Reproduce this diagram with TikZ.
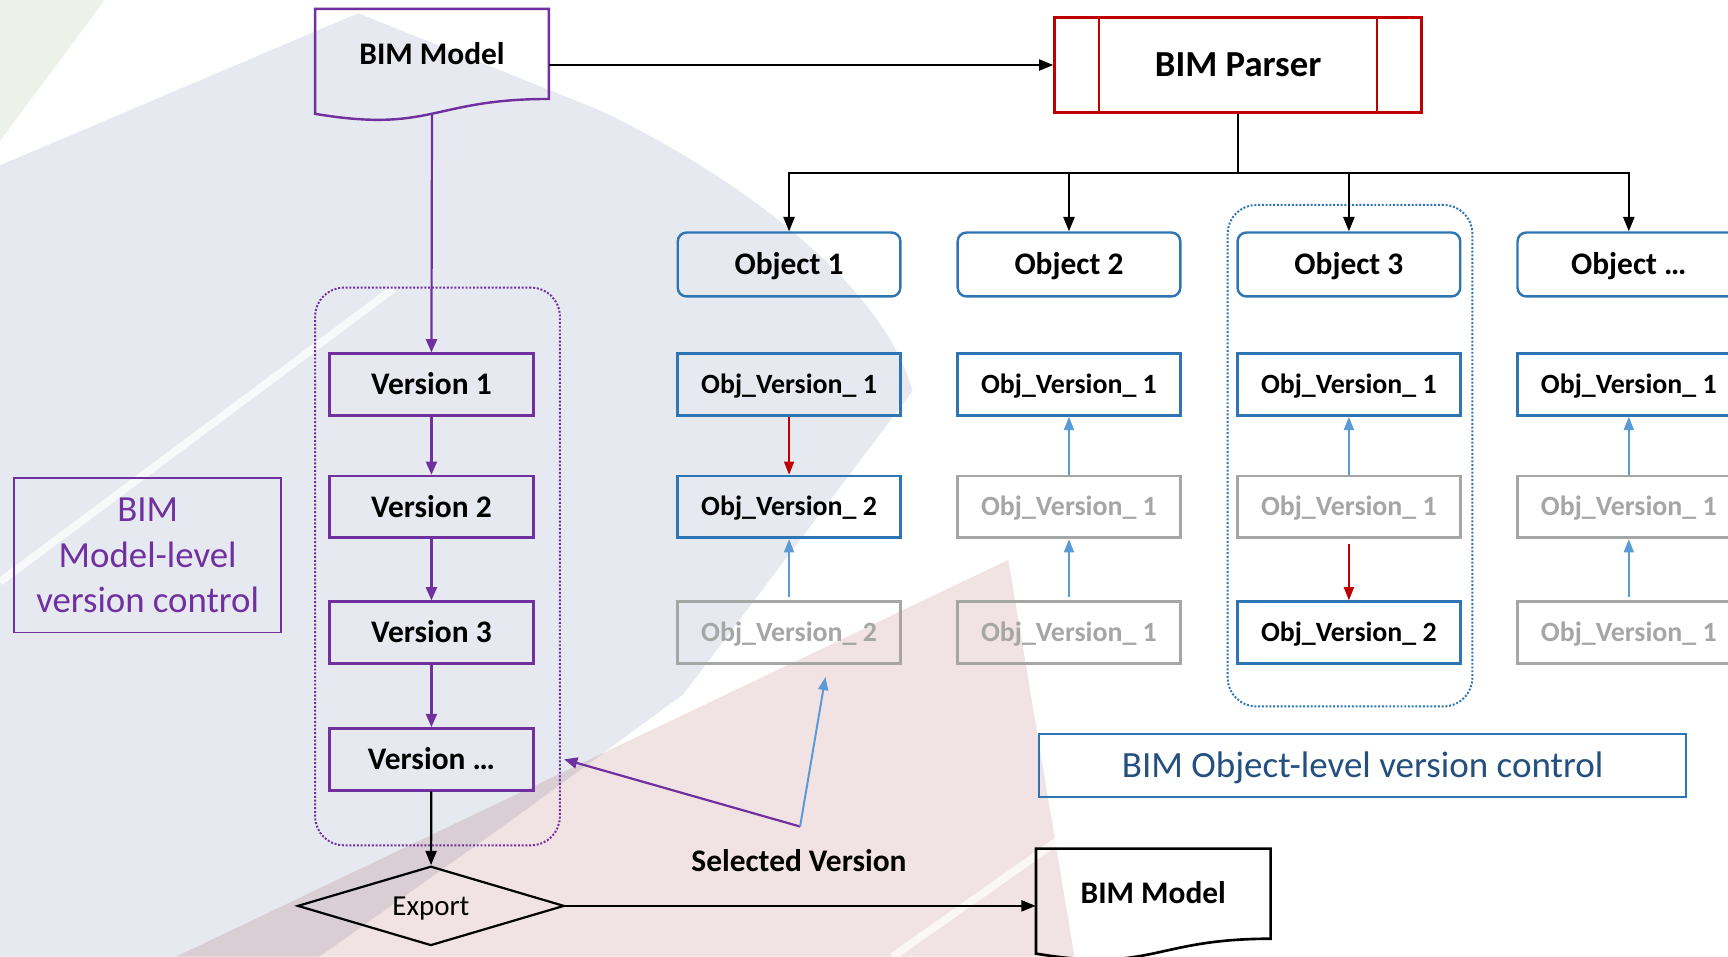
\documentclass[tikz,border=0pt]{standalone}
\usepackage{fontspec}
\setmainfont{Carlito}
\usetikzlibrary{arrows.meta,shapes.geometric,calc}

\definecolor{vpurple}{HTML}{7030A0}
\definecolor{oblue}{HTML}{2E75B6}
\definecolor{lblue}{HTML}{5B9BD5}
\definecolor{ogray}{HTML}{A6A6A6}
\definecolor{pred}{HTML}{C00000}
\definecolor{dblue}{HTML}{24507F}
\definecolor{bggray}{HTML}{E6E9EF}
\definecolor{bgpink}{HTML}{F1E2E3}
\definecolor{bggreen}{HTML}{EDF2E8}

\begin{document}
\begin{tikzpicture}[x=1pt,y=-1pt,
  every node/.style={inner sep=0pt},
  bfont/.style={font=\fontsize{28.5}{34}\selectfont\bfseries, text height=22pt, text depth=3.6pt},
  verbox/.style={draw=vpurple, line width=2.4pt, minimum width=185pt, minimum height=56pt, bfont},
  objbox/.style={draw=oblue, line width=2.2pt, rounded corners=8pt, minimum width=202pt, minimum height=58pt, bfont},
  ovbox/.style={draw=oblue, line width=2.4pt, minimum width=202pt, minimum height=56pt,
    font=\fontsize{25.3}{30}\selectfont\bfseries, text height=19.5pt, text depth=3.2pt},
  ovgray/.style={ovbox, draw=ogray, text=ogray},
  blackarrow/.style={line width=2pt, -{Triangle[length=13pt,width=10pt]}},
  purplearrow/.style={vpurple, line width=2pt, -{Triangle[length=12pt,width=10pt]}},
  bluearrow/.style={lblue, line width=1.8pt, -{Triangle[length=12pt,width=9pt]}},
  redarrow/.style={pred, line width=1.8pt, -{Triangle[length=12pt,width=9pt]}},
  groupbox/.style={line width=1.8pt, dash pattern=on 1.8pt off 1.6pt, rounded corners=26pt, minimum width=222pt}
]
\useasboundingbox (0,0) rectangle (1568,868);
\clip (0,0) rectangle (1568,868);

% slide background
\fill[white] (0,0) rectangle (1568,868);
\fill[bggreen] (0,0) -- (95,0) -- (0,128) -- cycle;
\fill[bggray] (0,150) -- (325,12) -- (544,100)
  .. controls (650,150) and (800,250) .. (828,355)
  -- (620,630) -- (470,740) -- (290,868) -- (0,868) -- cycle;
\fill[bgpink, blend mode=multiply] (915,508) -- (975,868) -- (160,868) -- cycle;
\draw[white, line width=7pt, opacity=0.75] (0,528) -- (357,262);
\draw[white, line width=7pt, opacity=0.75] (975,752) -- (810,868);

% model-level chain
\node[minimum width=212pt, minimum height=82pt, bfont] (bimA) at (392,49) {BIM Model};
\draw[vpurple, line width=2.2pt] (286,8) -- (498,8) -- (498,89.8)
  .. controls (392,89.8) and (392,121) .. (286,103.3) -- cycle;
\coordinate (bimAbot) at (392,103.2);

\node[groupbox, draw=vpurple, minimum height=506pt] (grpV) at (397,514) {};

\node[verbox] (v1) at (391.5,349) {Version 1};
\node[verbox] (v2) at (391.5,460) {Version 2};
\node[verbox] (v3) at (391.5,574) {Version 3};
\node[verbox] (v4) at (391.5,689) {Version …};

\draw[purplearrow] (bimAbot) -- (v1.north);
\draw[purplearrow] (v1) -- (v2);
\draw[purplearrow] (v2) -- (v3);
\draw[purplearrow] (v3) -- (v4);

\node[draw=vpurple, line width=1.6pt, minimum width=242pt, minimum height=140pt,
  text=vpurple, align=center, font=\fontsize{33.4}{41}\selectfont] (mlabel) at (134,504)
  {BIM\\Model-level\\version control};

\node[draw, line width=2pt, diamond, aspect=3.36, minimum width=242pt, minimum height=72pt,
  font=\fontsize{26.3}{30}\selectfont, text height=20pt, text depth=3.1pt] (export) at (391,822) {Export};
\draw[blackarrow] (v4) -- (export);

% bottom output document
\node[minimum width=213pt, minimum height=82pt, bfont] (bimB) at (1046.5,811) {BIM Model};
\draw[line width=2.4pt] (940,770) -- (1153,770) -- (1153,851.8)
  .. controls (1046.5,851.8) and (1046.5,883) .. (940,865.3) -- cycle;
\draw[blackarrow] (export.east) -- (export.east -| bimB.west);

% parser
\node[draw=pred, line width=2.4pt, minimum width=333pt, minimum height=86pt,
  font=\fontsize{33.3}{38}\selectfont\bfseries, text height=25.5pt, text depth=4.1pt] (parser) at (1123.5,59) {BIM Parser};
\draw[pred, line width=2pt] ([xshift=41.6pt]parser.north west) -- ([xshift=41.6pt]parser.south west);
\draw[pred, line width=2pt] ([xshift=-41.6pt]parser.north east) -- ([xshift=-41.6pt]parser.south east);
\draw[blackarrow] (bimA.east |- parser.west) -- (parser.west);

% object-level columns
\node[groupbox, draw=oblue, minimum height=455pt] (grpO) at (1225,413.5) {};

\node[objbox] (o1) at (716,240) {Object 1};
\node[objbox] (o2) at (970,240) {Object 2};
\node[objbox] (o3) at (1224,240) {Object 3};
\node[objbox] (o4) at (1478,240) {Object …};

\coordinate (split) at ($(parser.south)+(0,54)$);
\draw[line width=2pt] (parser.south) -- (split);
\foreach \o in {o1,o2,o3,o4} \draw[blackarrow] (split) -| (\o.north);

\node[ovbox]  (a1) at (716,349) {Obj\_Version\_ 1};
\node[ovbox]  (a2) at (716,460) {Obj\_Version\_ 2};
\node[ovgray] (a3) at (716,574) {Obj\_Version\_ 2};

\node[ovbox]  (b1) at (970,349) {Obj\_Version\_ 1};
\node[ovgray] (b2) at (970,460) {Obj\_Version\_ 1};
\node[ovgray] (b3) at (970,574) {Obj\_Version\_ 1};

\node[ovbox]  (c1) at (1224,349) {Obj\_Version\_ 1};
\node[ovgray] (c2) at (1224,460) {Obj\_Version\_ 1};
\node[ovbox]  (c3) at (1224,574) {Obj\_Version\_ 2};

\node[ovbox]  (d1) at (1478,349) {Obj\_Version\_ 1};
\node[ovgray] (d2) at (1478,460) {Obj\_Version\_ 1};
\node[ovgray] (d3) at (1478,574) {Obj\_Version\_ 1};

\draw[redarrow] (a1) -- (a2);
\draw[bluearrow, shorten <=3pt] (a3) -- (a2);
\draw[bluearrow] (b2) -- (b1);
\draw[bluearrow, shorten <=3pt] (b3) -- (b2);
\draw[bluearrow] (c2) -- (c1);
\draw[redarrow, shorten <=4pt] (c2) -- (c3);
\draw[bluearrow] (d2) -- (d1);
\draw[bluearrow, shorten <=3pt] (d3) -- (d2);

\node[draw=oblue, line width=1.8pt, minimum width=587pt, minimum height=57pt, text=dblue,
  font=\fontsize{33.6}{38}\selectfont, text height=25.7pt, text depth=4.1pt] (olabel) at (1236.5,694.5) {BIM Object-level version control};

% selected version pointers
\node[bfont] (sel) at (725,782) {Selected Version};
\coordinate (selpt) at (726,750);
\draw[purplearrow] (selpt) -- ([xshift=3pt]grpV.east |- v4.east);
\draw[bluearrow] (selpt) -- ([xshift=33pt,yshift=-11pt]a3.south);
\end{tikzpicture}
\end{document}
